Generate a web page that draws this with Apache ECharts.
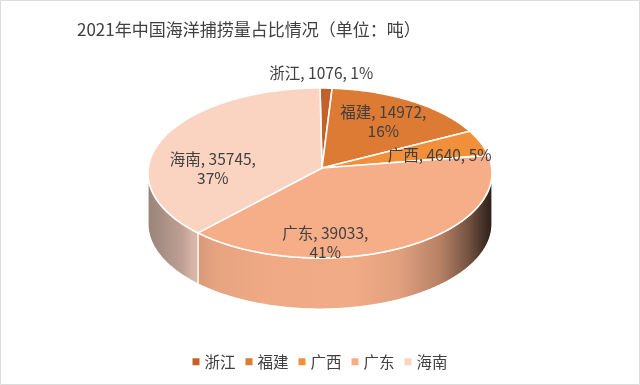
<!DOCTYPE html>
<html><head><meta charset="utf-8">
<script src="https://cdn.jsdelivr.net/npm/echarts/dist/echarts.min.js"></script>
<style>html,body{margin:0;padding:0;background:#fff}#c{width:640px;height:385px}</style>
</head><body><div id="c"></div>
<script>
const titleText = '2021年中国海洋捕捞量占比情况（单位：吨）';
const categories = ['浙江', '福建', '广西', '广东', '海南'];
const values = [1076, 14972, 4640, 39033, 35745];

// styling (not data)
const colors = ['#c4612b', '#dd7a33', '#f28f3b', '#f6ae89', '#fad3c1'];
const labelWrap = [false, true, false, true, true];
const labelNudge = [[-5, -35], [-3, 4], [5, 8], [-54, 22], [2, 23]];
const FONT = '"Noto Sans CJK SC", "Noto Sans", sans-serif';
const P = { cx: 320, cy: 173, rx: 172, ry: 85, depth: 51, apex: [322, 168] };

const total = values.reduce((a, b) => a + b, 0);
const cum = []; let acc = 0; values.forEach(v => { cum.push(acc); acc += v; });

function pt(t, dy) { return [P.cx + P.rx * Math.sin(t), P.cy - P.ry * Math.cos(t) + (dy || 0)]; }
function shade(hex, k) {
  const n = parseInt(hex.slice(1), 16);
  const r = Math.round(((n >> 16) & 255) * k), g = Math.round(((n >> 8) & 255) * k), b = Math.round((n & 255) * k);
  return 'rgb(' + r + ',' + g + ',' + b + ')';
}
const shadeStops = [[0, 0.62], [0.1, 0.76], [0.13, 0.86], [0.2, 0.94], [0.35, 0.97], [0.6, 0.98], [0.73, 0.92],
  [0.85, 0.74], [0.93, 0.48], [0.98, 0.26], [1, 0.18]];
function sideFill(hex) {
  return new echarts.graphic.LinearGradient(P.cx - P.rx, 0, P.cx + P.rx, 0,
    shadeStops.map(s => ({ offset: s[0], color: shade(hex, s[1]) })), true);
}

const chart = echarts.init(document.getElementById('c'), null, { renderer: 'canvas' });
chart.setOption({
  backgroundColor: '#fff',
  animation: false,
  title: {
    text: titleText, left: 72, top: 16,
    textStyle: { fontSize: 17, fontWeight: 'normal', color: '#404040', fontFamily: FONT }
  },
  legend: {
    data: categories, left: 'center', top: 349, icon: 'rect', itemWidth: 7, itemHeight: 7, itemGap: 10,
    textStyle: { fontSize: 15.5, color: '#404040', fontFamily: FONT }
  },
  graphic: [{ type: 'rect', shape: { x: 0.5, y: 0.5, width: 639, height: 384 }, style: { fill: 'none', stroke: '#dcdcdc' }, silent: true }],
  series: [
    {
      type: 'custom', coordinateSystem: 'none', silent: true,
      data: values.map((v, i) => ({ name: categories[i], value: v })),
      renderItem: function (params, api) {
        const i = params.dataIndex;
        const v = api.value(0);
        const a0 = cum[i] / total * 2 * Math.PI, a1 = (cum[i] + v) / total * 2 * Math.PI;
        const children = [];
        const s = Math.max(a0, Math.PI / 2), e = Math.min(a1, 3 * Math.PI / 2);
        if (e > s) {
          const pts = []; const n = Math.max(2, Math.ceil((e - s) / 0.01));
          for (let k = 0; k <= n; k++) pts.push(pt(s + (e - s) * k / n));
          for (let k = n; k >= 0; k--) pts.push(pt(s + (e - s) * k / n, P.depth));
          children.push({ type: 'polygon', shape: { points: pts }, style: { fill: sideFill(colors[i]), stroke: '#fff', lineWidth: 1.2 }, z2: 1 });
        }
        const tp = [P.apex]; const m = Math.max(2, Math.ceil((a1 - a0) / 0.01));
        for (let k = 0; k <= m; k++) tp.push(pt(a0 + (a1 - a0) * k / m));
        children.push({ type: 'polygon', shape: { points: tp }, style: { fill: colors[i], stroke: '#fff', lineWidth: 1.6, lineJoin: 'round' }, z2: 2 });
        const mid = (a0 + a1) / 2;
        const lx = P.apex[0] + 0.7 * P.rx * Math.sin(mid) + labelNudge[i][0];
        const ly = P.apex[1] - 0.7 * P.ry * Math.cos(mid) + labelNudge[i][1];
        const pct = Math.round(v / total * 100) + '%';
        const txt = categories[i] + ', ' + v + ',' + (labelWrap[i] ? '\n' : ' ') + pct;
        children.push({ type: 'text', x: lx, y: ly, z2: 10,
          style: { text: txt, fill: '#404040', font: '15.5px ' + FONT, align: 'center', verticalAlign: 'middle', lineHeight: 19 } });
        return { type: 'group', children: children };
      }
    },
    {
      // off-canvas pie used only to provide legend entries
      type: 'pie', center: [-1000, -1000], radius: 10, silent: true, label: { show: false },
      data: values.map((v, i) => ({ name: categories[i], value: v, itemStyle: { color: colors[i] } }))
    }
  ]
});
</script></body></html>
